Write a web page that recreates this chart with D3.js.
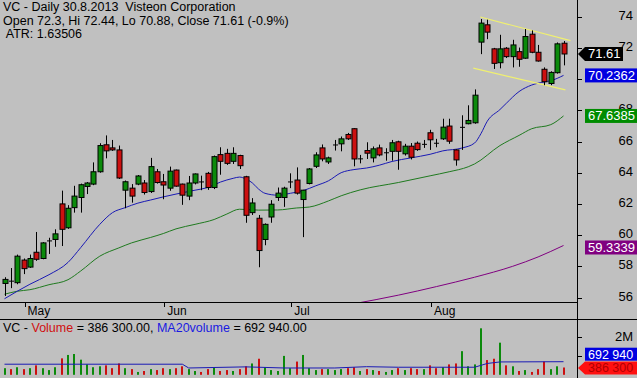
<!DOCTYPE html>
<html>
<head>
<meta charset="utf-8">
<script src="https://cdn.jsdelivr.net/npm/d3@7"></script>
<style>
  body { margin: 0; background: #c0c0c0; }
  svg { display: block; font-family: "Liberation Sans", Arial, sans-serif; }
</style>
</head>
<body>
<div id="chart"></div>
<script>
// Daily bars, 26.4.2013 - 30.8.2013 (index 0 = first visible bar)
var openP = [56.9,57.08,56.95,58.4,57.95,58.9,58.5,59.66,59.72,62.0,
  60.47,61.76,62.41,63.12,63.27,64.06,65.79,65.59,65.46,62.88,
  63.01,63.27,63.34,62.79,64.06,63.42,63.01,64.17,63.27,62.5,
  63.34,63.44,63.96,63.05,65.16,65.24,64.73,65.1,63.74,61.44,
  61.08,59.72,61.16,62.41,62.41,63.44,63.53,62.28,63.31,64.41,
  65.59,64.69,65.81,65.85,66.45,66.82,64.92,65.42,64.95,65.59,
  65.31,65.37,65.98,65.21,65.7,65.89,65.85,66.56,65.92,66.17,
  66.99,65.46,66.94,67.14,67.2,72.37,73.48,71.94,71.05,71.98,
  71.44,71.76,71.34,72.88,71.72,70.63,69.72,70.41,72.3];
var highP = [57.3,57.89,58.75,58.5,58.75,60.2,59.55,59.83,60.37,62.85,
  61.92,63.16,63.3,63.4,64.66,65.89,66.39,66.1,65.74,63.5,
  63.27,63.85,63.53,64.95,64.24,63.92,64.39,64.2,63.3,63.79,
  63.95,63.81,64.05,65.1,65.63,65.53,65.63,65.15,63.8,62.37,
  61.29,60.75,62.24,63.05,63.1,63.96,64.34,62.9,64.3,65.31,
  65.81,65.03,66.1,66.32,66.55,66.85,65.14,65.95,65.68,65.8,
  65.57,66.1,66.05,65.85,65.9,66.0,66.1,66.75,66.17,67.46,
  67.46,65.5,67.68,68.32,69.34,73.85,73.81,72.0,72.84,72.05,
  72.52,72.02,73.21,73.12,72.19,70.75,70.5,72.35,72.44];
var lowP = [56.1,56.6,56.85,57.5,57.9,58.35,58.45,58.79,59.25,59.3,
  60.4,61.44,61.44,62.63,63.2,64.0,64.92,65.4,63.6,61.72,
  62.08,63.2,62.6,62.7,63.3,62.3,62.84,63.1,61.94,62.24,
  63.25,62.88,62.9,62.95,63.87,64.5,64.56,64.24,60.79,61.29,
  57.94,59.35,60.79,62.19,61.81,63.01,62.6,59.87,63.25,64.3,
  64.73,64.56,65.42,65.37,66.1,64.41,64.6,64.88,64.66,65.05,
  64.77,64.77,64.19,65.1,64.85,65.4,65.59,65.46,65.63,66.1,
  65.85,64.45,65.46,67.1,67.14,71.6,72.56,70.65,70.69,71.35,
  70.75,70.79,71.3,71.66,71.12,69.61,69.61,70.35,70.88];
var closeP = [57.16,57.08,58.65,57.85,58.5,58.45,59.5,59.66,60.08,60.37,
  61.72,62.5,63.23,63.34,64.06,65.74,65.4,65.46,63.66,63.42,
  62.5,63.79,62.73,64.39,63.37,63.21,64.1,63.14,62.56,63.34,
  63.92,63.44,63.05,65.03,64.73,64.6,65.24,64.45,61.27,62.06,
  59.01,60.69,61.98,62.69,63.01,63.44,62.69,62.88,64.24,65.14,
  64.88,64.95,65.81,66.17,66.17,64.88,64.92,65.25,65.53,65.14,
  65.31,65.92,65.37,65.7,64.99,65.48,65.85,66.11,65.92,66.92,
  66.02,64.82,66.94,67.35,68.97,73.59,73.01,71.01,71.94,71.44,
  72.19,71.27,72.73,71.72,71.16,69.83,70.43,72.26,71.61];
var volumeM = [0.35,0.3,0.4,0.3,0.35,0.5,0.35,0.25,0.4,0.87,
  1.05,1.1,0.8,0.55,0.4,0.45,0.5,0.35,0.6,0.35,
  0.3,0.15,0.2,0.3,0.25,0.35,0.3,0.35,0.45,0.3,
  0.2,0.15,0.3,0.4,0.2,0.25,0.2,0.3,0.45,0.6,
  0.85,0.4,0.25,0.2,1.0,0.35,0.7,1.05,0.35,0.25,
  0.3,0.3,0.25,0.3,0.35,0.4,0.2,0.3,0.25,0.2,
  0.15,0.25,0.35,0.25,0.35,0.3,0.3,0.5,0.35,0.4,
  0.55,0.6,1.25,0.45,0.55,2.46,0.78,0.85,1.7,0.5,
  0.45,0.2,0.25,0.15,0.3,0.7,0.3,0.45,0.3863];

// moving averages: [bar index, value]
var ma20 = [[0,55.92],[2,56.4],[4,56.85],[7,57.46],[10,58.25],[12,59.2],[15,60.69],[17,61.44],
  [19,61.76],[21,62.05],[23,62.25],[25,62.45],[27,62.63],[30,62.88],[32,63.05],[34,63.4],
  [36,63.64],[37,63.72],[38,63.6],[39,63.35],[40,62.95],[41,62.68],[43,62.56],[45,62.68],
  [47,62.85],[49,63.16],[51,63.48],[53,64.0],[55,64.2],[57,64.3],[59,64.48],[61,64.72],
  [64,64.95],[67,65.18],[69,65.4],[72,65.58],[74,65.9],[75,66.5],[76,67.3],[78,68.05],
  [79,68.45],[81,69.2],[83,69.62],[85,69.82],[86,69.9],[88,70.2362]];
var ma50 = [[0,56.21],[2,56.4],[4,56.5],[7,56.82],[10,57.14],[12,57.7],[15,58.65],[18,59.18],
  [20,59.5],[23,59.85],[25,60.1],[27,60.4],[30,60.69],[33,61.0],[35,61.35],[37,61.66],
  [40,61.6],[43,61.61],[46,61.74],[48,61.8],[51,62.19],[53,62.52],[56,62.9],[62,63.37],
  [67,63.8],[70,64.06],[73,64.38],[74,64.56],[78,65.74],[81,66.39],[83,66.82],[86,67.08],
  [88,67.6385]];
var ma200 = [[55,55.6],[62,56.15],[68,56.7],[74,57.3],[80,58.0],[84,58.6],[88,59.3339]];
var ma20vol = [[0,0.56],[28,0.56],[29,0.36],[38,0.42],[44,0.36],[52,0.36],[57,0.43],
  [62,0.4],[74,0.4],[76,0.6],[78,0.68],[88,0.69294]];

// channel trendlines drawn on the chart: [bar index, price]
var channelTop = [[74.9,73.98],[89.1,72.47]];
var channelBottom = [[73.8,70.7],[88.3,69.31]];

var months = [{label:"May", index:3}, {label:"Jun", index:25}, {label:"Jul", index:45}, {label:"Aug", index:67}];
var priceTicks = [56,58,60,62,64,66,68,70,72,74];
var priceTickLabels = ["56","58","60","62","64","66","68","","72","74"]; // 70 sits under the MA20 badge
var volTicks = [1e6, 2e6];
var volTickLabels = ["", "2M"]; // 1M sits under the MA20volume badge

var headerLines = ["VC - Daily 30.8.2013  Visteon Corporation",
  "Open 72.3, Hi 72.44, Lo 70.88, Close 71.61 (-0.9%)",
  " ATR: 1.63506"];

var W = 637, H = 378;
var axisX = 577, priceBottom = 302, sepY = 319;
var green = "#0b8a0b", red = "#cc1010";

var svg = d3.select("#chart").append("svg")
    .attr("width", W)
    .attr("height", H);

svg.append("rect").attr("width", W).attr("height", H).attr("fill", "#c0c0c0");

var x = d3.scaleLinear().domain([0, 88]).range([4.5, 563.5]);
var y = d3.scaleLinear().domain([56, 74]).range([297.5, 16.7]);
var yv = d3.scaleLinear().domain([0, 2e6]).range([374.8, 337]);

svg.append("clipPath").attr("id", "pclip")
  .append("rect").attr("x", 0).attr("y", 0).attr("width", axisX).attr("height", priceBottom);

var price = svg.append("g").attr("clip-path", "url(#pclip)");

// moving averages
var maLine = d3.line()
    .x(function(d){ return x(d[0]); })
    .y(function(d){ return y(d[1]); })
    .curve(d3.curveMonotoneX);

price.append("path").datum(ma200).attr("d", maLine)
    .attr("fill", "none").attr("stroke", "#800080").attr("stroke-width", 1);
price.append("path").datum(ma50).attr("d", maLine)
    .attr("fill", "none").attr("stroke", "#1f7a1f").attr("stroke-width", 1);
price.append("path").datum(ma20).attr("d", maLine)
    .attr("fill", "none").attr("stroke", "#1a1ab4").attr("stroke-width", 1);

// channel
[channelTop, channelBottom].forEach(function(c){
  price.append("path").datum(c)
      .attr("d", d3.line().x(function(d){ return x(d[0]); }).y(function(d){ return y(d[1]); }))
      .attr("stroke", "#f0f070").attr("stroke-width", 1.2).attr("fill", "none");
});

// candles
var idx = d3.range(openP.length);
var candle = price.selectAll("g.candle").data(idx).enter().append("g").attr("class", "candle");

candle.append("line")
    .attr("x1", function(i){ return Math.round(x(i)) + 0.5; })
    .attr("x2", function(i){ return Math.round(x(i)) + 0.5; })
    .attr("y1", function(i){ return y(highP[i]); })
    .attr("y2", function(i){ return y(lowP[i]); })
    .attr("stroke", "#000").attr("stroke-width", 1);

candle.append("rect")
    .attr("x", function(i){ return Math.round(x(i)) - 2; })
    .attr("width", 5)
    .attr("y", function(i){ return y(Math.max(openP[i], closeP[i])); })
    .attr("height", function(i){ return Math.max(1, Math.abs(y(openP[i]) - y(closeP[i]))); })
    .attr("fill", function(i){
      if (closeP[i] > openP[i]) return green;
      if (closeP[i] < openP[i]) return red;
      return "#000";
    })
    .attr("stroke", "#000")
    .attr("stroke-width", function(i){ return closeP[i] == openP[i] ? 0 : 1; });

// frame lines
svg.append("line").attr("x1", 0).attr("x2", axisX).attr("y1", priceBottom + 0.5).attr("y2", priceBottom + 0.5)
    .attr("stroke", "#000");
svg.append("line").attr("x1", 0).attr("x2", W).attr("y1", sepY + 0.5).attr("y2", sepY + 0.5)
    .attr("stroke", "#000");
svg.append("line").attr("x1", axisX + 0.5).attr("x2", axisX + 0.5).attr("y1", 0).attr("y2", H)
    .attr("stroke", "#000");

// price axis ticks
var pt = svg.selectAll("g.ptick").data(priceTicks).enter().append("g");
pt.append("line").attr("x1", axisX).attr("x2", axisX + 5)
    .attr("y1", function(d){ return Math.round(y(d)) + 0.5; })
    .attr("y2", function(d){ return Math.round(y(d)) + 0.5; })
    .attr("stroke", "#000");
pt.append("text").attr("x", 633).attr("y", function(d){ return y(d) + 3; })
    .attr("text-anchor", "end").attr("font-size", 13)
    .text(function(d, i){ return priceTickLabels[i]; });

// month labels
var mt = svg.selectAll("g.month").data(months).enter().append("g");
mt.append("line")
    .attr("x1", function(d){ return Math.round(x(d.index)) + 1.5; })
    .attr("x2", function(d){ return Math.round(x(d.index)) + 1.5; })
    .attr("y1", priceBottom + 1).attr("y2", priceBottom + 5).attr("stroke", "#000");
mt.append("text").attr("x", function(d){ return x(d.index) + 4; }).attr("y", 315)
    .attr("font-size", 12).text(function(d){ return d.label; });

// header text
svg.selectAll("text.hdr").data(headerLines).enter().append("text")
    .attr("x", 3).attr("y", function(d, i){ return 11 + i * 13.7; })
    .attr("font-size", 12.5)
    .attr("xml:space", "preserve")
    .style("white-space", "pre")
    .text(function(d){ return d; });

// volume panel
var vol = svg.append("g");
vol.selectAll("rect").data(idx).enter().append("rect")
    .attr("x", function(i){ return Math.round(x(i)) - 1; })
    .attr("width", 2)
    .attr("y", function(i){ return yv(volumeM[i] * 1e6); })
    .attr("height", function(i){ return yv(0) - yv(volumeM[i] * 1e6); })
    .attr("fill", function(i){
      var up = closeP[i] > openP[i] || (closeP[i] == openP[i] && i > 0 && closeP[i] >= closeP[i - 1]);
      return up ? green : red;
    });

vol.append("path").datum(ma20vol)
    .attr("d", d3.line().x(function(d){ return x(d[0]); }).y(function(d){ return yv(d[1] * 1e6); }))
    .attr("fill", "none").attr("stroke", "#1a1ab4").attr("stroke-width", 1);

var vt = svg.selectAll("g.vtick").data(volTicks).enter().append("g");
vt.append("line").attr("x1", axisX).attr("x2", axisX + 5)
    .attr("y1", function(d){ return Math.round(yv(d)) + 0.5; })
    .attr("y2", function(d){ return Math.round(yv(d)) + 0.5; })
    .attr("stroke", "#000");
vt.append("text").attr("x", 633).attr("y", function(d){ return yv(d) + 4; })
    .attr("text-anchor", "end").attr("font-size", 13)
    .text(function(d, i){ return volTickLabels[i]; });

var vh = svg.append("text").attr("x", 3).attr("y", 332).attr("font-size", 12.5)
    .attr("xml:space", "preserve").style("white-space", "pre");
vh.append("tspan").text("VC - ");
vh.append("tspan").attr("fill", "#d01010").text("Volume");
vh.append("tspan").text(" = 386 300.00, ");
vh.append("tspan").attr("fill", "#1a1ae0").text("MA20volume");
vh.append("tspan").text(" = 692 940.00");

// value badges on the right axis
function badge(cy, label, bg, fg, arrow, right, h) {
  var g = svg.append("g");
  var left = 585;
  h = h || 14;
  if (arrow) {
    g.append("path")
      .attr("d", "M" + (axisX + 1) + "," + cy + " L" + left + "," + (cy - h / 2) + " L" + right + "," + (cy - h / 2) +
             " L" + right + "," + (cy + h / 2) + " L" + left + "," + (cy + h / 2) + " Z")
      .attr("fill", bg);
  } else {
    g.append("rect").attr("x", left).attr("y", cy - h / 2).attr("width", right - left).attr("height", h).attr("fill", bg);
  }
  g.append("text").attr("x", left + 3).attr("y", cy + 4.5).attr("font-size", h < 14 ? 12.5 : 13)
      .attr("fill", fg).text(label);
}

badge(y(ma50[ma50.length - 1][1]), "67.6385", "#008c00", "#fff", false, W);
badge(y(ma200[ma200.length - 1][1]) + 2, "59.3339", "#800080", "#fff", false, W);
badge(y(ma20[ma20.length - 1][1]), "70.2362", "#0000e0", "#fff", false, W);
badge(y(closeP[closeP.length - 1]), "71.61", "#000", "#fff", true, 623);
badge(yv(ma20vol[ma20vol.length - 1][1] * 1e6) - 7.5, "692 940", "#0000e0", "#fff", false, W, 13);
badge(yv(volumeM[volumeM.length - 1] * 1e6) + 0.5, "386 300", "#ff1010", "#b00000", true, W, 13);
</script>
</body>
</html>
